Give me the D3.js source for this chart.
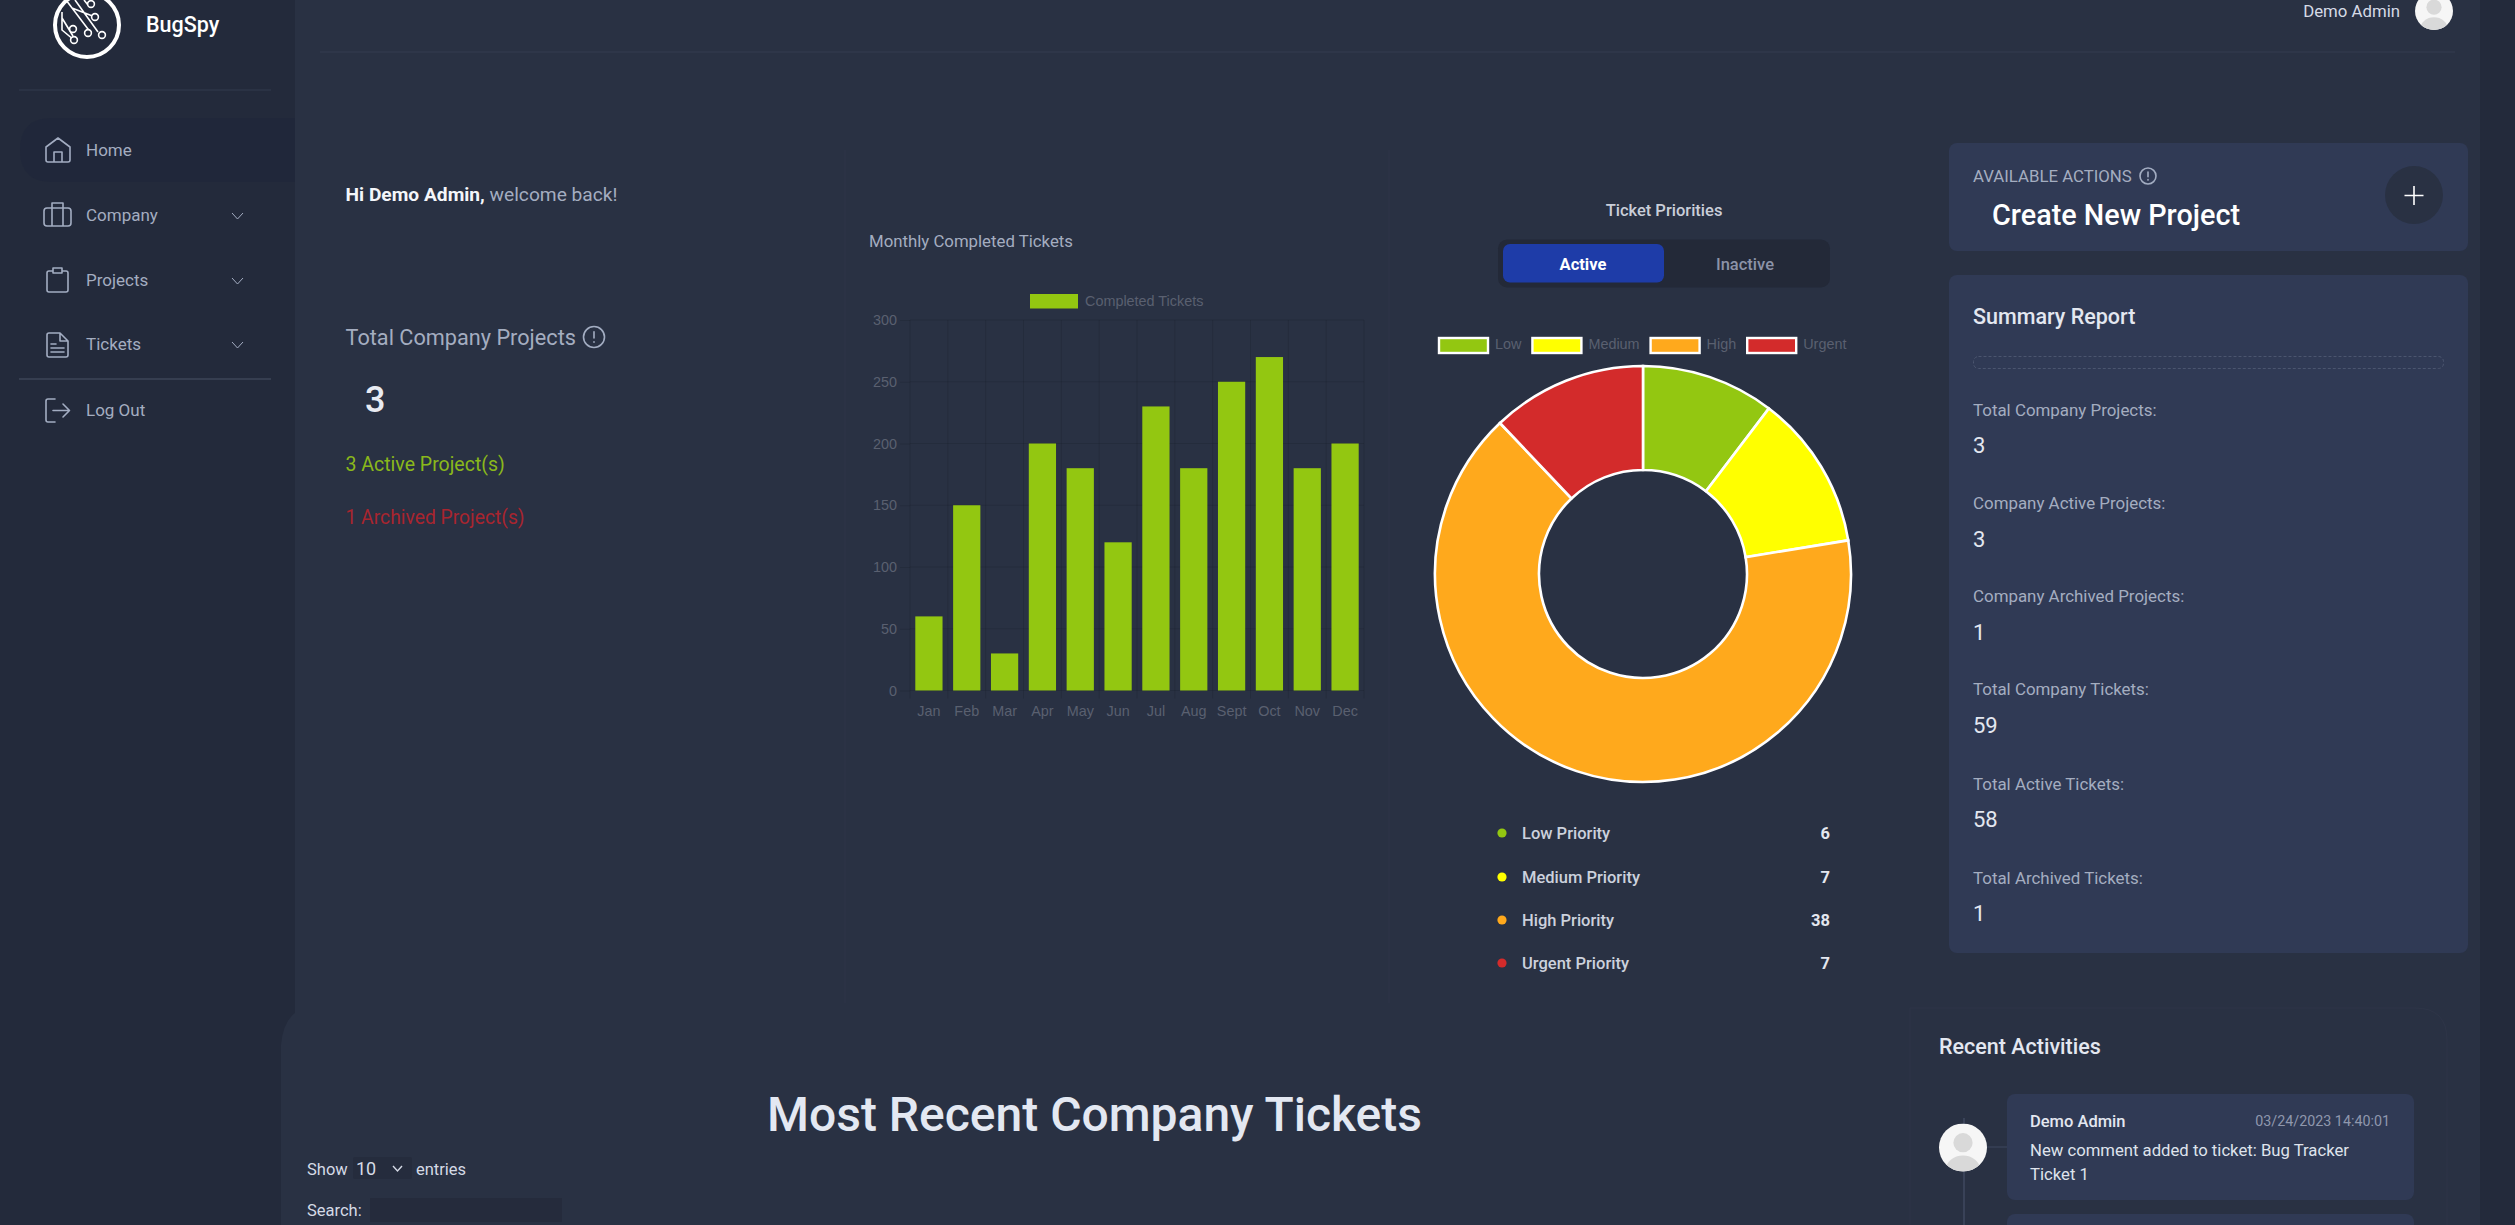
<!DOCTYPE html>
<html>
<head>
<meta charset="utf-8">
<title>BugSpy</title>
<script src="https://cdn.jsdelivr.net/npm/d3@7/dist/d3.min.js"></script>
<style>
html, body { margin: 0; padding: 0; background: #293143; overflow: hidden; }
svg { display: block; font-family: Roboto, sans-serif; }
.chart-text { font-family: "Liberation Sans", Arial, sans-serif; }
.icon { fill: none; stroke: #a3adc2; stroke-width: 1.6; stroke-linecap: round; stroke-linejoin: round; }
.chev { fill: none; stroke: #a3adc2; stroke-width: 1; }
</style>
</head>
<body>
<div id="page"></div>
<script>
// monthly bar chart
var months = ["Jan", "Feb", "Mar", "Apr", "May", "Jun", "Jul", "Aug", "Sept", "Oct", "Nov", "Dec"]
var completedTickets = [60, 150, 30, 200, 180, 120, 230, 180, 250, 270, 180, 200]
var yTicks = [0, 50, 100, 150, 200, 250, 300]

// priorities donut
var priorityNames = ["Low", "Medium", "High", "Urgent"]
var priorityValues = [6, 7, 38, 7]
var priorityColors = ["#93c711", "#ffff00", "#ffa91c", "#d32b2b"]

// sidebar and summary text
var navItems = ["Home", "Company", "Projects", "Tickets"]
var summaryLabels = ["Total Company Projects:", "Company Active Projects:", "Company Archived Projects:",
	"Total Company Tickets:", "Total Active Tickets:", "Total Archived Tickets:"]
var summaryValues = [3, 3, 1, 59, 58, 1]

var bgMain = "#293143", bgSide = "#232a3b", bgCard = "#303a55", muted = "#a4adc0"

var svg = d3.select("#page").append("svg").attr("width", 2515).attr("height", 1225)

function txt(x, y, s, size, color, weight, anchor) {
	return svg.append("text")
		.attr("x", x).attr("y", y).attr("dy", "0.36em")
		.attr("text-anchor", anchor || "start")
		.style("font-size", size + "px")
		.style("font-weight", weight || 400)
		.attr("fill", color)
		.text(s)
}

function box(x, y, w, h, r, fill) {
	return svg.append("rect").attr("x", x).attr("y", y).attr("width", w).attr("height", h).attr("rx", r).attr("fill", fill)
}

function hline(x1, x2, y, color) {
	svg.append("line").attr("x1", x1).attr("x2", x2).attr("y1", y).attr("y2", y).attr("stroke", color)
}

function vline(x, y1, y2, color) {
	svg.append("line").attr("x1", x).attr("x2", x).attr("y1", y1).attr("y2", y2).attr("stroke", color)
}

function infoIcon(cx, cy, r) {
	svg.append("circle").attr("cx", cx).attr("cy", cy).attr("r", r).attr("class", "icon")
	svg.append("path").attr("class", "icon").attr("d", `M${cx} ${cy - r * 0.5}V${cy + r * 0.1}M${cx} ${cy + r * 0.45}v0.5`)
}

function avatar(cx, cy, r, id) {
	svg.append("clipPath").attr("id", id).append("circle").attr("cx", cx).attr("cy", cy).attr("r", r)
	var g = svg.append("g").attr("clip-path", `url(#${id})`)
	g.append("rect").attr("x", cx - r).attr("y", cy - r).attr("width", 2 * r).attr("height", 2 * r).attr("fill", "#f6f6f6")
	g.append("circle").attr("cx", cx).attr("cy", cy - r * 0.2).attr("r", r * 0.4).attr("fill", "#d9d9d9")
	g.append("ellipse").attr("cx", cx).attr("cy", cy + r * 0.95).attr("rx", r * 0.72).attr("ry", r * 0.62).attr("fill", "#d9d9d9")
}

// ---- page background ----
box(0, 0, 295, 1225, 0, bgSide)
box(2480, 0, 35, 1225, 0, bgSide)
svg.append("path").attr("d", "M295 1013 Q283 1022 281 1045 V1225 H295 Z").attr("fill", bgMain)
hline(320, 2455, 52, "#343c50")
vline(845, 150, 1003, "#2e3548")
vline(1389, 150, 1003, "#2e3548")
svg.append("path").attr("d", "M1910 1225V1008H2415Q2447 1008 2447 1040V1225").attr("fill", "none").attr("stroke", "#2e3548")

// ---- sidebar ----
svg.append("circle").attr("cx", 87).attr("cy", 25).attr("r", 32).attr("fill", "none").attr("stroke", "#fff").attr("stroke-width", 4)
svg.append("path").attr("fill", "none").attr("stroke", "#fff").attr("stroke-width", 1.6)
	.attr("d", "M66 0L91 33M75 0L98 32M84 0L88 5M62 18L73 36M62 12V30L74 40M72 8L95 17")
;[[91, 4], [95, 17], [73, 29], [88, 33], [102, 35], [74, 40]].forEach(p => {
	svg.append("circle").attr("cx", p[0]).attr("cy", p[1]).attr("r", 3.4).attr("fill", bgSide).attr("stroke", "#fff").attr("stroke-width", 1.6)
})
txt(146, 24, "BugSpy", 21.5, "#fff", 500)
hline(19, 271, 90, "#333b4f")
hline(19, 271, 379, "#4a5266")

svg.append("path").attr("d", "M295 118H52Q20 118 20 150T52 182H295Z").attr("fill", "#20273a").attr("opacity", 0.7)

var navY = [150, 215, 280, 344]
navItems.forEach((n, i) => {
	txt(86, navY[i], n, 17, muted)
	if (i > 0) {
		svg.append("path").attr("class", "chev").attr("d", `M232 ${navY[i] - 2}l5.5 6l5.5 -6`)
	}
})
txt(86, 410, "Log Out", 17, muted)

svg.append("path").attr("class", "icon").attr("d", "M46 147L58 138L70 147V160Q70 162 68 162H48Q46 162 46 160ZM54 162V152H62V162")
svg.append("path").attr("class", "icon").attr("d", "M47 208H68Q71 208 71 211V223Q71 226 68 226H47Q44 226 44 223V211Q44 208 47 208ZM52 226V203H63V226")
svg.append("path").attr("class", "icon").attr("d", "M53 271H49Q47 271 47 273V290Q47 292 49 292H66Q68 292 68 290V273Q68 271 66 271H62M53 268H62V273H53Z")
svg.append("path").attr("class", "icon").attr("d", "M49 333H60L68 341V355Q68 357 66 357H49Q47 357 47 355V335Q47 333 49 333ZM60 333V341H68M51 344H56M51 348H64M51 352H64")
svg.append("path").attr("class", "icon").attr("d", "M55 399H48Q46 399 46 401V420Q46 422 48 422H55M53 410.5H69M63 404L69.5 410.5L63 417")

// ---- welcome column ----
var hi = txt(345.5, 194, "Hi Demo Admin, ", 19.2, "#f4f6fa", 700)
hi.append("tspan").style("font-weight", 400).attr("fill", muted).text("welcome back!")
txt(345.5, 337, "Total Company Projects", 21.7, muted)
infoIcon(594, 337, 10.5)
txt(365, 399.5, "3", 36, "#e8ebf2", 500)
txt(345.5, 464, "3 Active Project(s)", 19.5, "#8ab81b")
txt(345.5, 517, "1 Archived Project(s)", 19.3, "#a8252f")

// ---- monthly bar chart ----
txt(869, 241, "Monthly Completed Tickets", 16.8, muted)

var plot = { left: 910, right: 1364, top: 320, bottom: 690.5 }

var xScale = d3.scaleBand().domain(months).range([plot.left, plot.right]).paddingInner(0.28).paddingOuter(0.14)
var yScale = d3.scaleLinear().domain([0, 300]).range([plot.bottom, plot.top])

var chart = svg.append("g").attr("class", "chart-text")

chart.append("g").selectAll("line").data(yTicks).enter().append("line")
	.attr("x1", plot.left).attr("x2", plot.right)
	.attr("y1", d => yScale(d)).attr("y2", d => yScale(d))
	.attr("stroke", "rgba(0,0,0,0.1)")

chart.append("g").selectAll("line").data(d3.range(months.length + 1)).enter().append("line")
	.attr("x1", d => plot.left + d * xScale.step()).attr("x2", d => plot.left + d * xScale.step())
	.attr("y1", plot.top).attr("y2", plot.bottom + 8)
	.attr("stroke", "rgba(0,0,0,0.1)")

chart.append("g").selectAll("rect").data(completedTickets).enter().append("rect")
	.attr("x", (d, i) => xScale(months[i]))
	.attr("y", d => yScale(d))
	.attr("width", xScale.bandwidth())
	.attr("height", d => plot.bottom - yScale(d))
	.attr("fill", "#93c711")

var yAxis = d3.axisLeft(yScale).tickValues(yTicks).tickSize(10).tickPadding(3)
var xAxis = d3.axisBottom(xScale).tickSize(0).tickPadding(15)

var yG = chart.append("g").attr("transform", `translate(${plot.left},0)`).call(yAxis)
var xG = chart.append("g").attr("transform", `translate(0,${plot.bottom})`).call(xAxis)
yG.select(".domain").remove()
xG.select(".domain").remove()
yG.selectAll("line").attr("stroke", "rgba(0,0,0,0.1)")
chart.selectAll(".tick text").attr("fill", "#5a6070").style("font-size", "14.4px").style("font-family", '"Liberation Sans", Arial, sans-serif')

chart.append("rect").attr("x", 1030).attr("y", 294).attr("width", 48).attr("height", 14.5).attr("fill", "#93c711")
chart.append("text").attr("x", 1085).attr("y", 301).attr("dy", "0.35em").attr("fill", "#5a6070").style("font-size", "14.4px").text("Completed Tickets")

// ---- priorities donut ----
txt(1664, 210, "Ticket Priorities", 16.5, "#c9ced9", 500, "middle")
box(1498, 239.5, 332, 48, 9, "#232938")
box(1503, 244, 161, 38.5, 7, "#1e3ca8")
txt(1583, 264, "Active", 16.5, "#fff", 700, "middle")
txt(1745, 264, "Inactive", 16.5, "#8c93a8", 500, "middle")

var pie = d3.pie().sort(null)
var arc = d3.arc().innerRadius(104).outerRadius(208)
var colorScale = d3.scaleOrdinal().domain(priorityNames).range(priorityColors)

svg.append("g").attr("transform", "translate(1643,574)")
	.selectAll("path").data(pie(priorityValues)).enter().append("path")
	.attr("d", arc)
	.attr("fill", (d, i) => colorScale(priorityNames[i]))
	.attr("stroke", "#fff").attr("stroke-width", 2.6)

// legend flows left to right like the chart library does it
var legendX = 1439
priorityNames.forEach(n => {
	chart.append("rect").attr("x", legendX).attr("y", 338).attr("width", 49).attr("height", 15)
		.attr("fill", colorScale(n)).attr("stroke", "#fff").attr("stroke-width", 2.4)
	var t = chart.append("text").attr("x", legendX + 56).attr("y", 344).attr("dy", "0.35em")
		.attr("fill", "#5a6070").style("font-size", "14.4px").text(n)
	legendX += 56 + t.node().getComputedTextLength() + 11
})

var listY = [833, 877, 920, 963]
priorityNames.forEach((n, i) => {
	svg.append("circle").attr("cx", 1502).attr("cy", listY[i]).attr("r", 4.6).attr("fill", colorScale(n))
	txt(1522, listY[i], n + " Priority", 16.5, "#ccd1dd", 500)
	txt(1830, listY[i], priorityValues[i], 16.5, "#e4e7ef", 700, "end")
})

// ---- header user ----
txt(2400, 11, "Demo Admin", 16.8, "#d5dae6", 400, "end")
avatar(2434, 11, 19, "av1")

// ---- right cards ----
box(1949, 143, 519, 108, 8, bgCard)
txt(1973, 176, "AVAILABLE ACTIONS", 16.8, muted)
infoIcon(2148, 176, 8)
txt(1992, 215, "Create New Project", 28.8, "#fff", 500)
svg.append("circle").attr("cx", 2414).attr("cy", 195).attr("r", 29).attr("fill", bgMain)
svg.append("path").attr("d", "M2404.5 195.5H2423.5M2414 186V205").attr("stroke", "#fff").attr("stroke-width", 1.6)

box(1949, 275, 519, 678, 8, bgCard)
txt(1973, 316, "Summary Report", 21.5, "#e3e7f0", 500)
svg.append("rect").attr("x", 1973.5).attr("y", 356.5).attr("width", 470).attr("height", 12).attr("rx", 5)
	.attr("fill", "none").attr("stroke", "#4b556f").attr("stroke-dasharray", "3 2")

var labelY = [410, 503, 596, 689, 784, 878]
var valueY = [445, 539, 632, 725, 819, 913]
summaryLabels.forEach((s, i) => {
	txt(1973, labelY[i], s, 16.9, muted)
	txt(1973, valueY[i], summaryValues[i], 22, "#e3e7f0")
})

// ---- tickets header ----
txt(767, 1113.5, "Most Recent Company Tickets", 48, "#e3e8f2", 500)
txt(307, 1169, "Show", 16.5, "#d5dae6")
box(353, 1157, 59, 22, 2, "#252c3d")
txt(356, 1169, "10", 18, "#d5dae6")
svg.append("path").attr("d", "M393 1166l4.5 5l4.5 -5").attr("fill", "none").attr("stroke", "#d5dae6").attr("stroke-width", 1.4)
txt(416, 1169, "entries", 16.5, "#d5dae6")
txt(307, 1210, "Search:", 16.5, "#d5dae6")
box(370, 1198, 192, 24, 0, "#252b3c")

// ---- recent activities ----
txt(1939, 1046, "Recent Activities", 21.5, "#e3e7f0", 500)
vline(1964, 1118, 1225, "#4b556f")
hline(1986, 2007, 1147, "#3f4860")
box(2007, 1094, 407, 106, 8, bgCard)
box(2007, 1214, 407, 40, 8, bgCard)
avatar(1963, 1147.5, 24, "av2")
txt(2030, 1121, "Demo Admin", 16.5, "#e3e7f0", 500)
txt(2390, 1121, "03/24/2023 14:40:01", 14.3, "#8f97ad", 400, "end")
txt(2030, 1150, "New comment added to ticket: Bug Tracker", 16.7, "#dfe3ec")
txt(2030, 1174, "Ticket 1", 16.7, "#dfe3ec")
</script>
</body>
</html>
